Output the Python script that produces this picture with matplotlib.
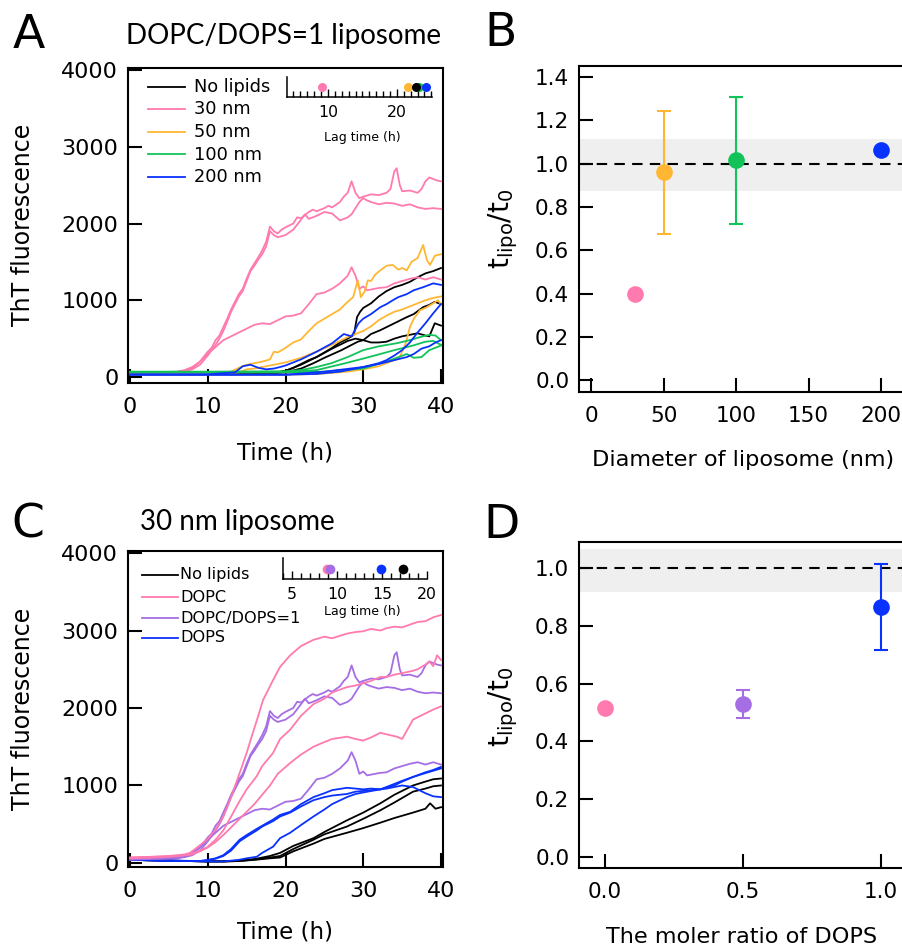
import numpy as np
import matplotlib.pyplot as plt
from matplotlib.lines import Line2D
from matplotlib.ticker import MultipleLocator, FormatStrFormatter

plt.rcParams['font.family'] = ['DejaVu Sans']
plt.rcParams['mathtext.default'] = 'regular'

# colours
c_black = '#000000'
c_pink = '#ff7aae'
c_orange = '#ffb733'
c_green = '#12c35a'
c_blue = '#0a32ff'
c_purple = '#a66ee4'

# ---- panel A / C shared: 30 nm DOPC/DOPS=1 liposome traces (3 replicates)
dd1_t = [0, 2, 4, 6, 7, 8, 9, 10, 10.5, 11, 11.5, 12, 12.5, 13, 13.5, 14, 14.5, 15, 15.5, 16, 16.5, 17, 17.5, 18, 18.5, 19, 19.5, 20, 21, 21.5, 22, 23, 23.5, 24, 25, 25.5, 26, 27, 27.5, 28, 28.5, 29, 29.5, 30, 31, 32, 33, 33.5, 34, 34.3, 34.7, 35, 36, 37, 37.5, 38, 38.5, 39, 39.5, 40]
dd1_v = [50, 55, 60, 70, 90, 130, 200, 330, 380, 480, 540, 650, 760, 880, 980, 1080, 1150, 1280, 1400, 1480, 1560, 1650, 1760, 1960, 1900, 1870, 1920, 1950, 2000, 2080, 2070, 2150, 2180, 2160, 2200, 2230, 2210, 2280, 2350, 2400, 2550, 2400, 2330, 2350, 2380, 2370, 2400, 2450, 2680, 2720, 2500, 2420, 2430, 2400, 2450, 2550, 2600, 2580, 2560, 2550]
dd2_t = [0, 2, 4, 6, 7, 8, 9, 10, 10.5, 11, 11.5, 12, 12.5, 13, 13.5, 14, 14.5, 15, 15.5, 16, 16.5, 17, 17.5, 18, 18.5, 19, 20, 21, 22, 22.5, 23, 24, 25, 26, 27, 27.5, 28, 28.5, 29, 29.5, 30, 30.5, 31, 32, 33, 34, 35, 36, 37, 38, 39, 40]
dd2_v = [45, 50, 55, 60, 75, 100, 160, 280, 350, 420, 500, 600, 720, 850, 950, 1050, 1120, 1250, 1380, 1450, 1530, 1600, 1700, 1900, 1850, 1820, 1850, 1920, 2050, 2120, 2060, 2100, 2150, 2130, 2040, 2060, 2080, 2120, 2200, 2280, 2330, 2300, 2280, 2250, 2270, 2260, 2230, 2250, 2210, 2190, 2200, 2190]
dd3_t = [0, 2, 4, 6, 7, 8, 9, 10, 11, 12, 13, 14, 15, 16, 17, 18, 19, 20, 21, 22, 23, 24, 25, 26, 27, 28, 28.5, 29, 29.5, 30, 30.5, 31, 32, 33, 34, 35, 36, 37, 38, 39, 40]
dd3_v = [45, 50, 55, 65, 80, 110, 200, 300, 390, 480, 530, 580, 630, 680, 700, 690, 740, 790, 800, 830, 950, 1080, 1100, 1150, 1220, 1320, 1430, 1320, 1150, 1180, 1130, 1140, 1160, 1170, 1220, 1250, 1280, 1300, 1270, 1300, 1270]

# ---- panel A: 50 nm
o1_t = [0, 5, 10, 13, 14, 15, 16, 17, 18, 18.5, 19, 20, 21, 22, 23, 24, 25, 26, 27, 28, 28.7, 29.3, 29.7, 30.2, 30.6, 31, 31.5, 32.2, 33, 33.8, 34.5, 35, 35.6, 36.2, 37, 37.7, 38.2, 38.6, 39.2, 40]
o1_v = [40, 40, 45, 70, 120, 160, 180, 200, 230, 330, 320, 380, 450, 490, 600, 700, 760, 820, 880, 980, 1040, 1260, 1040, 1120, 1260, 1250, 1330, 1390, 1450, 1460, 1400, 1420, 1390, 1500, 1550, 1720, 1520, 1460, 1580, 1600]
o2_t = [0, 10, 14, 15, 16, 17, 18, 19, 20, 22, 24, 26, 28, 30, 31, 32, 33, 34, 35, 36, 37, 38, 39, 40]
o2_v = [40, 40, 60, 100, 110, 130, 150, 170, 190, 250, 330, 420, 520, 600, 660, 740, 800, 850, 880, 920, 960, 1000, 1030, 1050]
o3_t = [0, 10, 20, 24, 28, 30, 31, 32, 33, 34, 34.7, 35.5, 36, 36.5, 37.3, 38, 39, 39.6, 40]
o3_v = [30, 30, 30, 40, 70, 100, 120, 140, 180, 220, 260, 450, 650, 760, 870, 900, 960, 1000, 950]

# ---- panel A: no lipids
k1_t = [0, 10, 18, 19, 20, 21, 22, 23, 24, 25, 26, 27, 28, 28.8, 29.2, 29.6, 30, 31, 32, 33, 34, 35, 36, 37, 38, 39, 40]
k1_v = [40, 40, 45, 60, 80, 120, 170, 220, 260, 320, 380, 450, 500, 550, 780, 850, 900, 960, 1050, 1120, 1170, 1200, 1240, 1300, 1350, 1380, 1420]
k2_t = [0, 10, 18, 20, 22, 23.6, 25, 27.2, 29.3, 30, 31, 32.2, 33, 34, 35.6, 36.5, 37.7, 38.5, 39.2, 40]
k2_v = [40, 40, 45, 60, 110, 180, 250, 350, 460, 480, 560, 610, 650, 700, 780, 820, 910, 940, 980, 950]
k3_t = [0, 10, 18, 20, 22, 24, 26, 28, 29, 30, 31, 32, 33, 34, 35, 36, 37, 38, 38.5, 39.2, 40]
k3_v = [40, 40, 45, 80, 160, 260, 370, 470, 500, 480, 450, 450, 460, 500, 530, 550, 570, 540, 530, 700, 670]

# ---- panel A: 200 nm
b1_t = [0, 10, 13.5, 14.5, 15.5, 16.5, 17.5, 18.5, 19.3, 20, 22, 24, 26, 27.5, 28.5, 29.4, 30, 31, 32.2, 33, 33.8, 34.5, 35.6, 36.5, 37.7, 39, 40]
b1_v = [35, 35, 60, 140, 160, 120, 100, 110, 130, 150, 230, 330, 440, 560, 530, 700, 760, 820, 910, 950, 1000, 1040, 1080, 1130, 1170, 1220, 1200]
b2_t = [0, 10, 20, 25, 30, 32, 33, 34, 35, 36, 37, 38, 39, 40]
b2_v = [30, 30, 30, 70, 130, 180, 220, 280, 350, 450, 580, 700, 830, 950]
b3_t = [0, 10, 20, 24, 27, 30, 32, 34, 35.6, 36.5, 37.5, 38.5, 39.3, 40]
b3_v = [30, 30, 30, 40, 70, 130, 170, 220, 260, 300, 370, 400, 450, 480]

# ---- panel A: 100 nm
g1_t = [0, 10, 20, 22, 24, 25.9, 28, 30, 32, 34.3, 36, 37.3, 38.5, 39.3, 40]
g1_v = [70, 70, 75, 90, 130, 180, 260, 350, 400, 440, 480, 520, 550, 540, 480]
g2_t = [0, 10, 20, 24, 27.7, 30, 32.2, 34, 36.4, 38, 39, 40]
g2_v = [65, 65, 65, 90, 180, 240, 300, 350, 410, 460, 470, 420]
g3_t = [0, 10, 20, 25, 30, 33.5, 35.6, 36.5, 37.5, 38.5, 40]
g3_v = [60, 60, 60, 70, 110, 220, 300, 250, 260, 350, 410]

# ---- panel C: DOPC
cp1_t = [0, 3, 5, 6, 7, 7.7, 8.5, 9.9, 11, 12, 13, 14.1, 15, 15.8, 16.5, 17.1, 18.4, 19.3, 20.6, 22, 23.6, 25, 26, 27.9, 29, 30, 31, 32.2, 33, 34, 35, 36.4, 37, 38, 39, 40]
cp1_v = [70, 80, 90, 100, 110, 130, 190, 300, 430, 600, 850, 1160, 1420, 1680, 1900, 2100, 2360, 2530, 2680, 2800, 2880, 2920, 2900, 2960, 2980, 2990, 3020, 3000, 3030, 3050, 3040, 3090, 3110, 3120, 3170, 3200]
cp2_t = [0, 3, 5, 6, 7, 8, 9.9, 11, 12, 13, 14.1, 15, 16.3, 17, 18.4, 19.3, 20.6, 22, 23.6, 25, 26, 27.9, 29, 30, 31, 32.2, 33, 34, 35, 36.4, 37, 38, 38.5, 39, 39.5, 40]
cp2_v = [70, 80, 85, 90, 100, 120, 200, 300, 420, 600, 800, 950, 1120, 1250, 1420, 1600, 1720, 1900, 2050, 2120, 2200, 2270, 2290, 2320, 2350, 2400, 2400, 2430, 2450, 2480, 2500, 2560, 2600, 2540, 2680, 2620]
cp3_t = [0, 3, 5, 6, 7, 8, 9, 10, 11, 12, 13, 14, 15, 16, 17, 18, 19, 20.6, 22, 23.6, 25, 26, 27.9, 29, 30, 31, 32.2, 33, 34.3, 35, 36.4, 37, 38, 39, 40]
cp3_v = [60, 70, 80, 90, 100, 110, 150, 200, 270, 360, 460, 560, 660, 760, 880, 1000, 1150, 1290, 1400, 1500, 1560, 1600, 1630, 1600, 1580, 1620, 1680, 1660, 1630, 1600, 1850, 1880, 1930, 1980, 2020]

# ---- panel C: DOPS
cb1_t = [0, 5, 9, 10, 11, 12, 13, 14.1, 15, 16.3, 17, 18.4, 19.3, 20.6, 22, 23.6, 25, 26, 27.9, 29, 30, 31, 32.2, 33, 34, 35, 36.4, 37, 38, 39, 40]
cb1_v = [40, 30, 25, 40, 60, 100, 180, 300, 360, 440, 480, 560, 620, 660, 760, 850, 900, 940, 970, 960, 950, 960, 950, 960, 980, 1000, 980, 950, 900, 860, 850]
cb2_t = [0, 5, 9, 10, 11, 12, 13, 14.1, 15, 16.3, 17, 18.4, 19.3, 20.6, 22, 23.6, 25, 26, 27.9, 29, 30, 32.2, 34, 35, 36.4, 38, 39, 40]
cb2_v = [40, 30, 25, 35, 55, 90, 160, 280, 340, 420, 470, 540, 600, 650, 730, 810, 850, 870, 890, 920, 930, 950, 1000, 1050, 1110, 1170, 1200, 1240]
cb3_t = [0, 5, 10, 12, 13, 14, 15, 16.3, 17, 18.4, 19.3, 20.6, 22, 23.6, 25, 26, 27.9, 29, 30, 32.2, 34, 35, 36.4, 38, 39, 40]
cb3_v = [40, 30, 20, 20, 30, 40, 60, 80, 130, 210, 320, 390, 490, 600, 690, 760, 850, 890, 910, 950, 1020, 1060, 1110, 1160, 1190, 1220]

# ---- panel C: no lipids
ck1_t = [0, 5, 10, 12, 14, 16, 18, 19.3, 21, 23.6, 25, 27.9, 30, 32.2, 34, 36.4, 38, 39, 40]
ck1_v = [40, 30, 20, 20, 30, 50, 90, 130, 220, 320, 400, 550, 650, 770, 880, 1000, 1050, 1080, 1090]
ck2_t = [0, 5, 10, 12, 14, 16, 18, 19.3, 21, 23.6, 25, 27.9, 30, 32.2, 34, 36.4, 38, 39, 40]
ck2_v = [40, 30, 20, 20, 25, 45, 70, 90, 180, 300, 370, 470, 570, 680, 780, 920, 960, 990, 1000]
ck3_t = [0, 5, 10, 12, 14, 16, 18, 19.3, 21, 23.6, 25, 27.9, 30, 32.2, 34, 36.4, 38, 38.6, 39.3, 40]
ck3_v = [40, 30, 20, 20, 25, 40, 60, 70, 150, 250, 310, 390, 450, 520, 580, 650, 700, 770, 700, 720]

# ---- insets: lag times (h)
lag_a_labels = ['No lipids', '30 nm', '50 nm', '100 nm', '200 nm']
lag_a = [22.8, 9.1, 21.6, 23.2, 24.2]
lag_c_labels = ['No lipids', 'DOPC', 'DOPC/DOPS=1', 'DOPS']
lag_c = [17.3, 8.9, 9.2, 14.9]

# ---- panel B / D
diam = [30, 50, 100, 200]
ratio_b = [0.40, 0.96, 1.015, 1.065]
err_b = [0.0, 0.285, 0.295, 0.0]
band_b = [0.872, 1.113]
dops = [0.0, 0.5, 1.0]
ratio_d = [0.515, 0.529, 0.865]
err_d = [0.0, 0.049, 0.15]
band_d = [0.917, 1.066]

W, H = 902, 947
fig = plt.figure(figsize=(W / 100, H / 100), dpi=100)


def rect(x0, y0, x1, y1):
    # pixel box (top-left origin) -> figure fraction
    return [x0 / W, 1 - y1 / H, (x1 - x0) / W, (y1 - y0) / H]


def ftxt(x, y, s, **kw):
    fig.text(x / W, 1 - y / H, s, ha=kw.pop('ha', 'center'), va=kw.pop('va', 'center'), **kw)


def style(ax, fs):
    for sp in ax.spines.values():
        sp.set_linewidth(1.5)
    ax.tick_params(direction='in', length=10, width=1.5, labelsize=fs, top=False, right=False)


def key(labels, colors, x0, x1, xt, ys, fs):
    for lab, c, y in zip(labels, colors, ys):
        fig.add_artist(Line2D([x0 / W, x1 / W], [1 - y / H, 1 - y / H], color=c, lw=1.3))
        ftxt(xt, y, lab, ha='left', fontsize=fs)


def inset(rc, xlim, ticks, fs):
    ax = fig.add_axes(rc)
    ax.set_xlim(*xlim)
    ax.set_ylim(0, 1)
    ax.patch.set_alpha(0)
    for s in ['top', 'right']:
        ax.spines[s].set_visible(False)
    for s in ['bottom', 'left']:
        ax.spines[s].set_linewidth(1.1)
    ax.set_yticks([])
    ax.set_xticks(ticks)
    ax.xaxis.set_minor_locator(MultipleLocator(1))
    ax.tick_params(axis='x', which='both', direction='in', width=1.0, labelsize=fs, pad=6)
    ax.tick_params(axis='x', which='major', length=6)
    ax.tick_params(axis='x', which='minor', length=4.5)
    return ax


# ================= A
axA = fig.add_axes(rect(128, 68, 443, 383))
A_traces = [
    (k1_t, k1_v, c_black), (k2_t, k2_v, c_black), (k3_t, k3_v, c_black),
    (dd1_t, dd1_v, c_pink), (dd2_t, dd2_v, c_pink), (dd3_t, dd3_v, c_pink),
    (o1_t, o1_v, c_orange), (o2_t, o2_v, c_orange), (o3_t, o3_v, c_orange),
    (g1_t, g1_v, c_green), (g2_t, g2_v, c_green), (g3_t, g3_v, c_green),
    (b1_t, b1_v, c_blue), (b2_t, b2_v, c_blue), (b3_t, b3_v, c_blue),
]
for t, v, c in A_traces:
    axA.plot(t, v, color=c, lw=1.3)
axA.set_xlim(-0.26, 40.26)
axA.set_ylim(-78, 4026)
axA.set_xticks([0, 10, 20, 30, 40])
axA.set_yticks([0, 1000, 2000, 3000, 4000])
style(axA, 16)
axA.tick_params(axis='y', pad=7)
axA.tick_params(axis='x', pad=10)
key(lag_a_labels, [c_black, c_pink, c_orange, c_green, c_blue], 148, 185, 194,
    [87, 109.5, 132, 154.5, 177], 12.8)

insA = inset(rect(287, 77, 432, 97), (4.06, 25.1), [10, 20], 11.3)
for x, c in zip([lag_a[1], lag_a[2], lag_a[3], lag_a[0], lag_a[4]], [c_pink, c_orange, c_green, c_black, c_blue]):
    insA.plot([x], [0.5], 'o', color=c, ms=6.5, mec='none', clip_on=False)
ftxt(362, 137, 'Lag time (h)', fontsize=9)

ftxt(285, 453, 'Time (h)', fontsize=16.5)
ftxt(23, 225, 'ThT fluorescence', fontsize=17, rotation=90)
ftxt(284, 36, 'DOPC/DOPS=1 liposome', fontsize=20, family=['Lato', 'DejaVu Sans'])
ftxt(29, 35, 'A', fontsize=34)

# ================= C
axC = fig.add_axes(rect(128, 551, 443, 867))
C_traces = [
    (ck1_t, ck1_v, c_black), (ck2_t, ck2_v, c_black), (ck3_t, ck3_v, c_black),
    (cb1_t, cb1_v, c_blue), (cb2_t, cb2_v, c_blue), (cb3_t, cb3_v, c_blue),
    (dd1_t, dd1_v, c_purple), (dd2_t, dd2_v, c_purple), (dd3_t, dd3_v, c_purple),
    (cp1_t, cp1_v, c_pink), (cp2_t, cp2_v, c_pink), (cp3_t, cp3_v, c_pink),
]
for t, v, c in C_traces:
    axC.plot(t, v, color=c, lw=1.3)
axC.set_xlim(-0.26, 40.26)
axC.set_ylim(-52, 4026)
axC.set_xticks([0, 10, 20, 30, 40])
axC.set_yticks([0, 1000, 2000, 3000, 4000])
style(axC, 16)
axC.tick_params(axis='y', pad=7)
axC.tick_params(axis='x', pad=10)
key(lag_c_labels, [c_black, c_pink, c_purple, c_blue], 142, 178, 180,
    [575, 597, 618, 638], 11.6)

insC = inset(rect(283, 558, 427, 579), (4.0, 20.0), [5, 10, 15, 20], 11.3)
for x, c in zip([lag_c[1], lag_c[2], lag_c[3], lag_c[0]], [c_pink, c_purple, c_blue, c_black]):
    insC.plot([x], [0.5], 'o', color=c, ms=7, mec='none', clip_on=False)
ftxt(362, 612, 'Lag time (h)', fontsize=9)

ftxt(285, 932, 'Time (h)', fontsize=16.5)
ftxt(23, 709, 'ThT fluorescence', fontsize=17, rotation=90)
ftxt(140, 522, '30 nm liposome', fontsize=20, ha='left', family=['Lato', 'DejaVu Sans'])
ftxt(28, 525, 'C', fontsize=34)

# ================= B
axB = fig.add_axes(rect(579, 66, 910, 392))
axB.axhspan(band_b[0], band_b[1], color='#efefef', lw=0, zorder=0)
axB.axhline(1.0, color='black', lw=1.5, ls=(0, (5, 3.5)), zorder=1)
for x, y, e, c in zip(diam, ratio_b, err_b, [c_pink, c_orange, c_green, c_blue]):
    axB.errorbar([x], [y], yerr=[e], fmt='o', color=c, ms=12, mec='none',
                 elinewidth=1.5, capsize=5, capthick=1.5, zorder=3)
axB.set_xlim(-8.3, 220)
axB.set_ylim(-0.055, 1.451)
axB.set_xticks([0, 50, 100, 150, 200])
axB.set_yticks(np.arange(0, 1.41, 0.2))
axB.yaxis.set_major_formatter(FormatStrFormatter('%.1f'))
style(axB, 15.5)
axB.tick_params(axis='y', pad=7)
axB.tick_params(axis='x', pad=10)
ftxt(743, 460, 'Diameter of liposome (nm)', fontsize=16.1)
ftxt(503, 229, r'$t_{lipo}/t_0$', fontsize=20, rotation=90)
ftxt(501, 34, 'B', fontsize=34)

# ================= D
axD = fig.add_axes(rect(579, 542, 922, 868))
axD.axhspan(band_d[0], band_d[1], color='#efefef', lw=0, zorder=0)
axD.axhline(1.0, color='black', lw=1.5, ls=(0, (5, 3.5)), zorder=1)
for x, y, e, c in zip(dops, ratio_d, err_d, [c_pink, c_purple, c_blue]):
    axD.errorbar([x], [y], yerr=[e], fmt='o', color=c, ms=12, mec='none',
                 elinewidth=1.5, capsize=5, capthick=1.5, zorder=3)
axD.set_xlim(-0.094, 1.15)
axD.set_ylim(-0.038, 1.09)
axD.set_xticks([0.0, 0.5, 1.0])
axD.set_yticks(np.arange(0, 1.01, 0.2))
axD.yaxis.set_major_formatter(FormatStrFormatter('%.1f'))
axD.xaxis.set_major_formatter(FormatStrFormatter('%.1f'))
style(axD, 15.5)
axD.tick_params(axis='y', pad=7)
axD.tick_params(axis='x', pad=10)
ftxt(742, 937, 'The moler ratio of DOPS', fontsize=16.1)
ftxt(503, 707, r'$t_{lipo}/t_0$', fontsize=20, rotation=90)
ftxt(502, 526, 'D', fontsize=34)

fig.savefig('out.png', dpi=100)
